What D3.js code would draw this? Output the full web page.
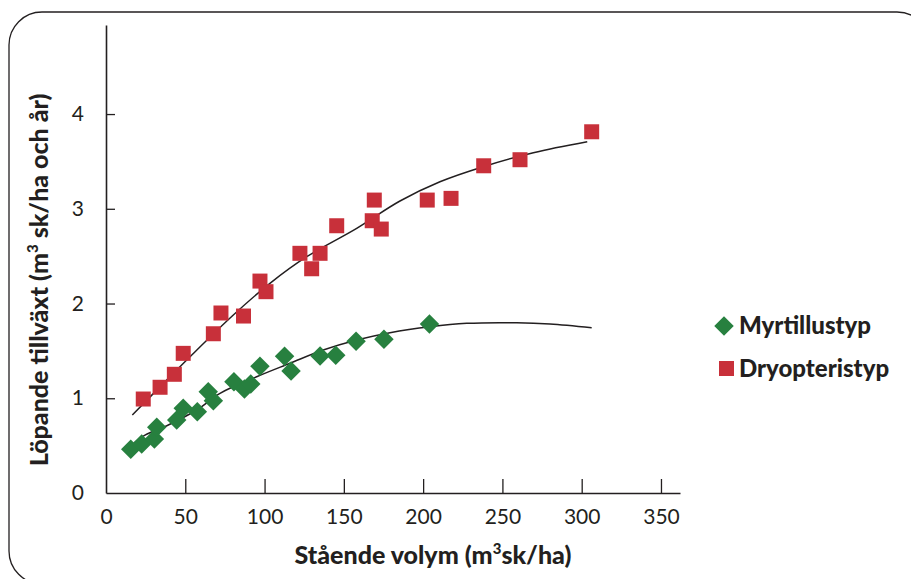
<!DOCTYPE html>
<html>
<head>
<meta charset="utf-8">
<script src="https://cdn.jsdelivr.net/npm/d3@7"></script>
<style>
  html, body { margin: 0; padding: 0; background: #fff; }
  svg { display: block; }
  text { font-family: Lato, "Open Sans", sans-serif; fill: #231f20; }
</style>
</head>
<body>
<svg id="chart" width="911" height="579"></svg>
<script>
// ---- Data ----
const seriesNames = ["Myrtillustyp", "Dryopteristyp"];

const myrtillusX = [15.6, 22.5, 30.5, 32.0, 44.6, 48.7, 57.6, 64.5, 67.7, 80.7, 87.3, 91.3, 97.1, 112.6, 116.7, 135.0, 144.9, 157.7, 175.3, 204.0];
const myrtillusY = [0.461, 0.517, 0.570, 0.693, 0.770, 0.894, 0.858, 1.069, 0.974, 1.175, 1.098, 1.150, 1.337, 1.443, 1.288, 1.446, 1.453, 1.601, 1.622, 1.784];

const dryopterisX = [23.5, 34.1, 43.1, 48.7, 67.7, 72.5, 86.7, 97.1, 100.9, 122.3, 129.7, 135.0, 145.5, 167.9, 169.2, 173.6, 202.6, 217.6, 238.2, 261.1, 306.3];
const dryopterisY = [0.992, 1.116, 1.253, 1.474, 1.681, 1.900, 1.868, 2.237, 2.125, 2.530, 2.367, 2.530, 2.821, 2.874, 3.092, 2.786, 3.092, 3.110, 3.454, 3.518, 3.813];

// trend curves
const myrtillusTrendX = [17.0, 24.6, 39.3, 57.2, 71.9, 95.0, 116.0, 137.0, 158.1, 179.1, 204.3, 227.5, 259.0, 280.0, 306.3];
const myrtillusTrendY = [0.517, 0.610, 0.718, 0.876, 1.052, 1.227, 1.369, 1.509, 1.615, 1.692, 1.755, 1.791, 1.797, 1.784, 1.745];

const dryopterisTrendX = [16.6, 38.3, 53.0, 80.3, 103.4, 126.6, 158.1, 185.4, 210.6, 237.9, 269.5, 303.5];
const dryopterisTrendY = [0.823, 1.193, 1.439, 1.879, 2.213, 2.494, 2.794, 3.082, 3.285, 3.444, 3.592, 3.708];

const xTicks = [0, 50, 100, 150, 200, 250, 300, 350];
const yTicks = [0, 1, 2, 3, 4];

// ---- Styles ----
const RED = "#c8303a";
const GREEN = "#27803f";
const INK = "#231f20";

const svg = d3.select("#chart");

// frame
svg.append("rect")
  .attr("x", 9).attr("y", 12)
  .attr("width", 921).attr("height", 572)
  .attr("rx", 33).attr("ry", 33)
  .attr("fill", "none").attr("stroke", INK).attr("stroke-width", 1.3);

const x = d3.scaleLinear().domain([0, 362]).range([106, 680]);
const y = d3.scaleLinear().domain([0, 4.94]).range([493, 25]);

// axes
const xAxis = d3.axisBottom(x).tickValues(xTicks).tickSizeInner(-14).tickSizeOuter(0).tickPadding(16).tickFormat(d3.format("d"));
const gx = svg.append("g").attr("transform", `translate(0,${y(0)})`).call(xAxis);

const yAxis = d3.axisLeft(y).tickValues(yTicks).tickSizeInner(-9).tickSizeOuter(0).tickPadding(22).tickFormat(d3.format("d"));
const gy = svg.append("g").attr("transform", `translate(${x(0)},0)`).call(yAxis);

[gx, gy].forEach(g => {
  g.select(".domain").attr("stroke", INK).attr("stroke-width", 1.6);
  g.selectAll(".tick line").attr("stroke", INK).attr("stroke-width", 1.3);
  g.selectAll(".tick text")
    .attr("font-family", "Lato, 'Open Sans', sans-serif")
    .attr("font-size", 21).attr("fill", INK);
});
gx.selectAll(".tick").filter(d => d === 0).select("line").remove();
gy.selectAll(".tick").filter(d => d === 0).select("line").remove();

// axis titles
const xt = svg.append("text")
  .attr("x", 433).attr("y", 564)
  .attr("text-anchor", "middle")
  .attr("font-size", 25).attr("font-weight", 900);
xt.append("tspan").text("Stående volym (m");
xt.append("tspan").attr("font-size", 15).attr("dy", -10).text("3");
xt.append("tspan").attr("dy", 10).text("sk/ha)");

const yt = svg.append("text")
  .attr("transform", "translate(48,280) rotate(-90)")
  .attr("text-anchor", "middle")
  .attr("font-size", 25).attr("font-weight", 900);
yt.append("tspan").text("Löpande tillväxt (m");
yt.append("tspan").attr("font-size", 15).attr("dy", -10).text("3");
yt.append("tspan").attr("dy", 10).text(" sk/ha och år)");

// trend lines
const line = d3.line().x(d => x(d[0])).y(d => y(d[1])).curve(d3.curveCatmullRom);
svg.append("path")
  .datum(dryopterisTrendX.map((v, i) => [v, dryopterisTrendY[i]]))
  .attr("d", line).attr("fill", "none").attr("stroke", INK).attr("stroke-width", 1.5);
svg.append("path")
  .datum(myrtillusTrendX.map((v, i) => [v, myrtillusTrendY[i]]))
  .attr("d", line).attr("fill", "none").attr("stroke", INK).attr("stroke-width", 1.5);

// markers
const squareSym = d3.symbol().type(d3.symbolSquare).size(225);
const diamondSym = d3.symbol().type(d3.symbolSquare).size(190);

svg.append("g").selectAll("path")
  .data(dryopterisX.map((v, i) => [v, dryopterisY[i]]))
  .join("path")
  .attr("d", squareSym)
  .attr("transform", d => `translate(${x(d[0])},${y(d[1])})`)
  .attr("fill", RED);

svg.append("g").selectAll("path")
  .data(myrtillusX.map((v, i) => [v, myrtillusY[i]]))
  .join("path")
  .attr("d", diamondSym)
  .attr("transform", d => `translate(${x(d[0])},${y(d[1])}) rotate(45)`)
  .attr("fill", GREEN);

// legend
const legend = svg.append("g");
const legendItems = [
  { name: seriesNames[0], color: GREEN, sym: diamondSym, rot: 45, cx: 724, cy: 326, ty: 334 },
  { name: seriesNames[1], color: RED, sym: squareSym, rot: 0, cx: 726.5, cy: 368.5, ty: 377 }
];
legendItems.forEach(it => {
  legend.append("path")
    .attr("d", it.sym)
    .attr("transform", `translate(${it.cx},${it.cy}) rotate(${it.rot})`)
    .attr("fill", it.color);
  legend.append("text")
    .attr("x", 739).attr("y", it.ty)
    .attr("font-size", 24).attr("font-weight", 900)
    .text(it.name);
});
</script>
</body>
</html>
